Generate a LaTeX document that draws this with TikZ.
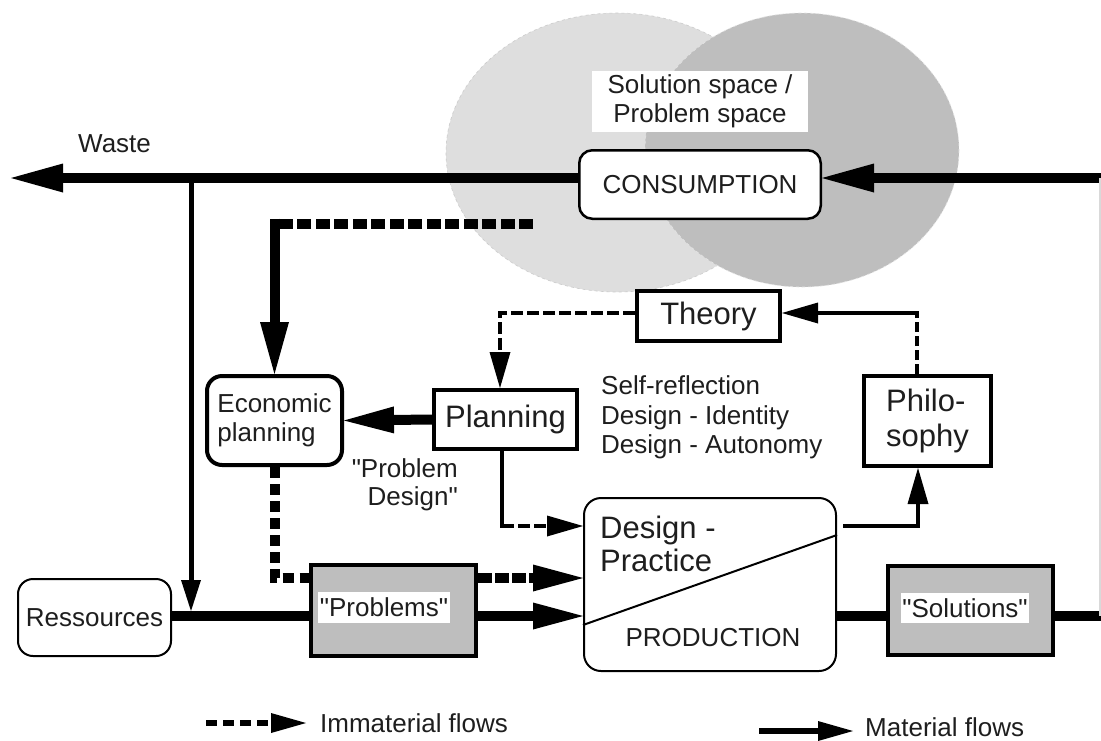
\documentclass[tikz,border=0pt]{standalone}
\usepackage{fontspec}
\setmainfont{Liberation Sans}[Ligatures=TeXOff]
\usetikzlibrary{arrows.meta}
\definecolor{lightc}{HTML}{DEDEDE}
\definecolor{darkc}{HTML}{BEBEBE}
\definecolor{txt}{HTML}{1E1E1E}
\begin{document}
\begin{tikzpicture}[x=1pt,y=-1pt,line join=miter,
  every node/.style={inner sep=0pt},
  ft/.style={font=\fontsize{26}{29}\selectfont,text=txt},
  fb/.style={font=\fontsize{31}{34}\selectfont,text=txt},
  boxk/.style={draw,line width=4pt,fill=white},
  rbox/.style={draw,rounded corners=15pt,line width=2pt,fill=white},
  graybox/.style={draw,line width=4pt,fill=darkc},
  lbl/.style={fill=white,ft},
  mat/.style={line width=10pt},
  tline/.style={line width=4.5pt},
  tdash/.style={dash pattern=on 12pt off 4pt},
  bigtip/.style={-{Triangle[length=52pt,width=29pt,line width=0pt]}},
  midtip/.style={-{Triangle[length=50pt,width=27pt,line width=0pt]}},
  smalltip/.style={-{Triangle[length=36pt,width=21pt,line width=0pt]}},
  tinytip/.style={-{Triangle[length=31pt,width=20pt,line width=0pt]}},
  legtip/.style={-{Triangle[length=35pt,width=20pt,line width=0pt]}}]
\useasboundingbox (0,0) rectangle (1101,740);
\fill[white] (0,0) rectangle (1101,740);

% spaces
\filldraw[fill=lightc,draw=gray!40,dashed,line width=0.6pt] (617,152.5) ellipse [x radius=171,y radius=139.5];
\filldraw[fill=darkc,draw=gray!20,dashed,line width=0.6pt] (802,150) ellipse [x radius=157,y radius=137];
\node[lbl,minimum width=216pt,minimum height=61pt,align=center] (space) at (700,101.5) {Solution space /\\Problem space};

% nodes
\node[rbox,rounded corners=13pt,line width=2.5pt,minimum width=241.5pt,minimum height=68.5pt,ft] (cons) at (700,184.5) {CONSUMPTION};
\node[boxk,minimum width=143pt,minimum height=50pt,fb] (theory) at (708.5,316) {Theory};
\node[boxk,minimum width=143pt,minimum height=59pt,fb] (planning) at (505.5,419.5) {Planning};
\node[boxk,rounded corners=15pt,minimum width=135pt,minimum height=89pt,ft,align=left] (econ) at (274.5,420.5) {Economic\\planning};
\node[boxk,minimum width=127pt,minimum height=90pt,font=\fontsize{31}{35}\selectfont,text=txt,align=left] (phil) at (927.5,421) {Philo-\\sophy};
\node[draw,line width=2pt,rounded corners=17pt,minimum width=252pt,minimum height=173pt,fill=white] (dp) at (710,584.5) {};
\coordinate (d1) at (0,625);
\coordinate (d2) at (0,535);
\draw[line width=2pt] (dp.west |- d1) -- (dp.east |- d2);
\node[anchor=west,font=\fontsize{31}{33}\selectfont,text=txt,align=left] (dptext) at (600,543.5) {Design -\\Practice};
\node[ft] (prod) at (713,638) {PRODUCTION};
\node[graybox,minimum width=165pt,minimum height=91pt] (prob) at (393.5,610.5) {};
\node[lbl,minimum width=132pt,minimum height=31pt] (probl) at (384,607.5) {"Problems"};
\node[graybox,minimum width=165pt,minimum height=89pt] (sol) at (970.5,610.5) {};
\node[lbl,minimum width=128pt,minimum height=30pt] (soll) at (965,608) {"Solutions"};
\node[rbox,minimum width=153pt,minimum height=77pt,ft] (res) at (94.5,617.5) {Ressources};

% texts
\node[ft,anchor=west] (waste) at (78,144) {Waste};
\node[anchor=west,align=left,font=\fontsize{26}{29.5}\selectfont,text=txt] (self) at (601,417.5) {Self-reflection\\Design - Identity\\Design - Autonomy};
\node[anchor=east,align=right,font=\fontsize{26}{28}\selectfont,text=txt] (pdes) at (458,485) {"Problem\\Design"};

% coordinates
\coordinate (ym) at (0,616);
\coordinate (yi) at (0,578);
\coordinate (yt) at (0,313);
\coordinate (R1) at (1101,178);
\coordinate (W) at (11,178);
\coordinate (J1) at (191,178);
\coordinate (J2) at (191,611);
\coordinate (R2) at (1101,616);
\coordinate (R3) at (1100,178);
\coordinate (R4) at (1100,616);
\coordinate (t1) at (533,223.5);
\coordinate (t3) at (274.5,218.5);
\coordinate (tp) at (500,313);
\coordinate (pd) at (502,526);
\coordinate (dps) at (843,526);
\coordinate (dph) at (918,526);
\coordinate (pt) at (917,313);

% material flows
\draw[mat,bigtip] (R1) -- (cons.east |- R1);
\draw[mat,bigtip] (cons.west |- R1) -- (W);
\draw[line width=5pt,tinytip] (J1) -- (J2);
\draw[mat] (res.east |- ym) -- (prob.west |- ym);
\draw[mat,midtip] (prob.east |- ym) -- (dp.west |- ym);
\draw[mat] (dp.east |- ym) -- (sol.west |- ym);
\draw[mat] (sol.east |- ym) -- (R2);
\draw[line width=1.5pt,gray!30] (R3) -- (R4);

% immaterial flows
\draw[mat,dash pattern=on 14pt off 4.5pt] (t1) -- (econ.north |- t1);
\draw[mat,bigtip] (t3) -- (econ.north);
\draw[mat,midtip] (planning.west) -- (econ.east);
\draw[mat,dash pattern=on 11pt off 6pt] (econ.south) -- (econ.south |- yi) -- (prob.west |- yi);
\draw[mat,dash pattern=on 14pt off 3pt,midtip] (prob.east |- yi) -- (dp.west |- yi);
\draw[tline,tdash,smalltip] (theory.west |- yt) -- (tp) -- (tp |- planning.north);
\draw[tline,line cap=rect] (planning.south -| pd) -- (pd);
\draw[tline,tdash,smalltip] (pd) -- (dp.west |- pd);
\draw[tline,smalltip] (dps) -- (dph) -- (phil.south -| dph);
\draw[tline,dash pattern=on 10pt off 4pt] (phil.north -| pt) -- (pt);
\draw[tline,line cap=rect,smalltip] (pt) -- (theory.east |- pt);

% legend
\coordinate (l1) at (206,723);
\coordinate (l2) at (306,723);
\coordinate (l3) at (759,731);
\coordinate (l4) at (853,731);
\draw[line width=6pt,dash pattern=on 11pt off 6pt,legtip] (l1) -- (l2);
\node[ft,anchor=west] (legi) at (320,723) {Immaterial flows};
\draw[line width=6pt,legtip] (l3) -- (l4);
\node[ft,anchor=west] (legm) at (865,727) {Material flows};
\end{tikzpicture}
\end{document}
